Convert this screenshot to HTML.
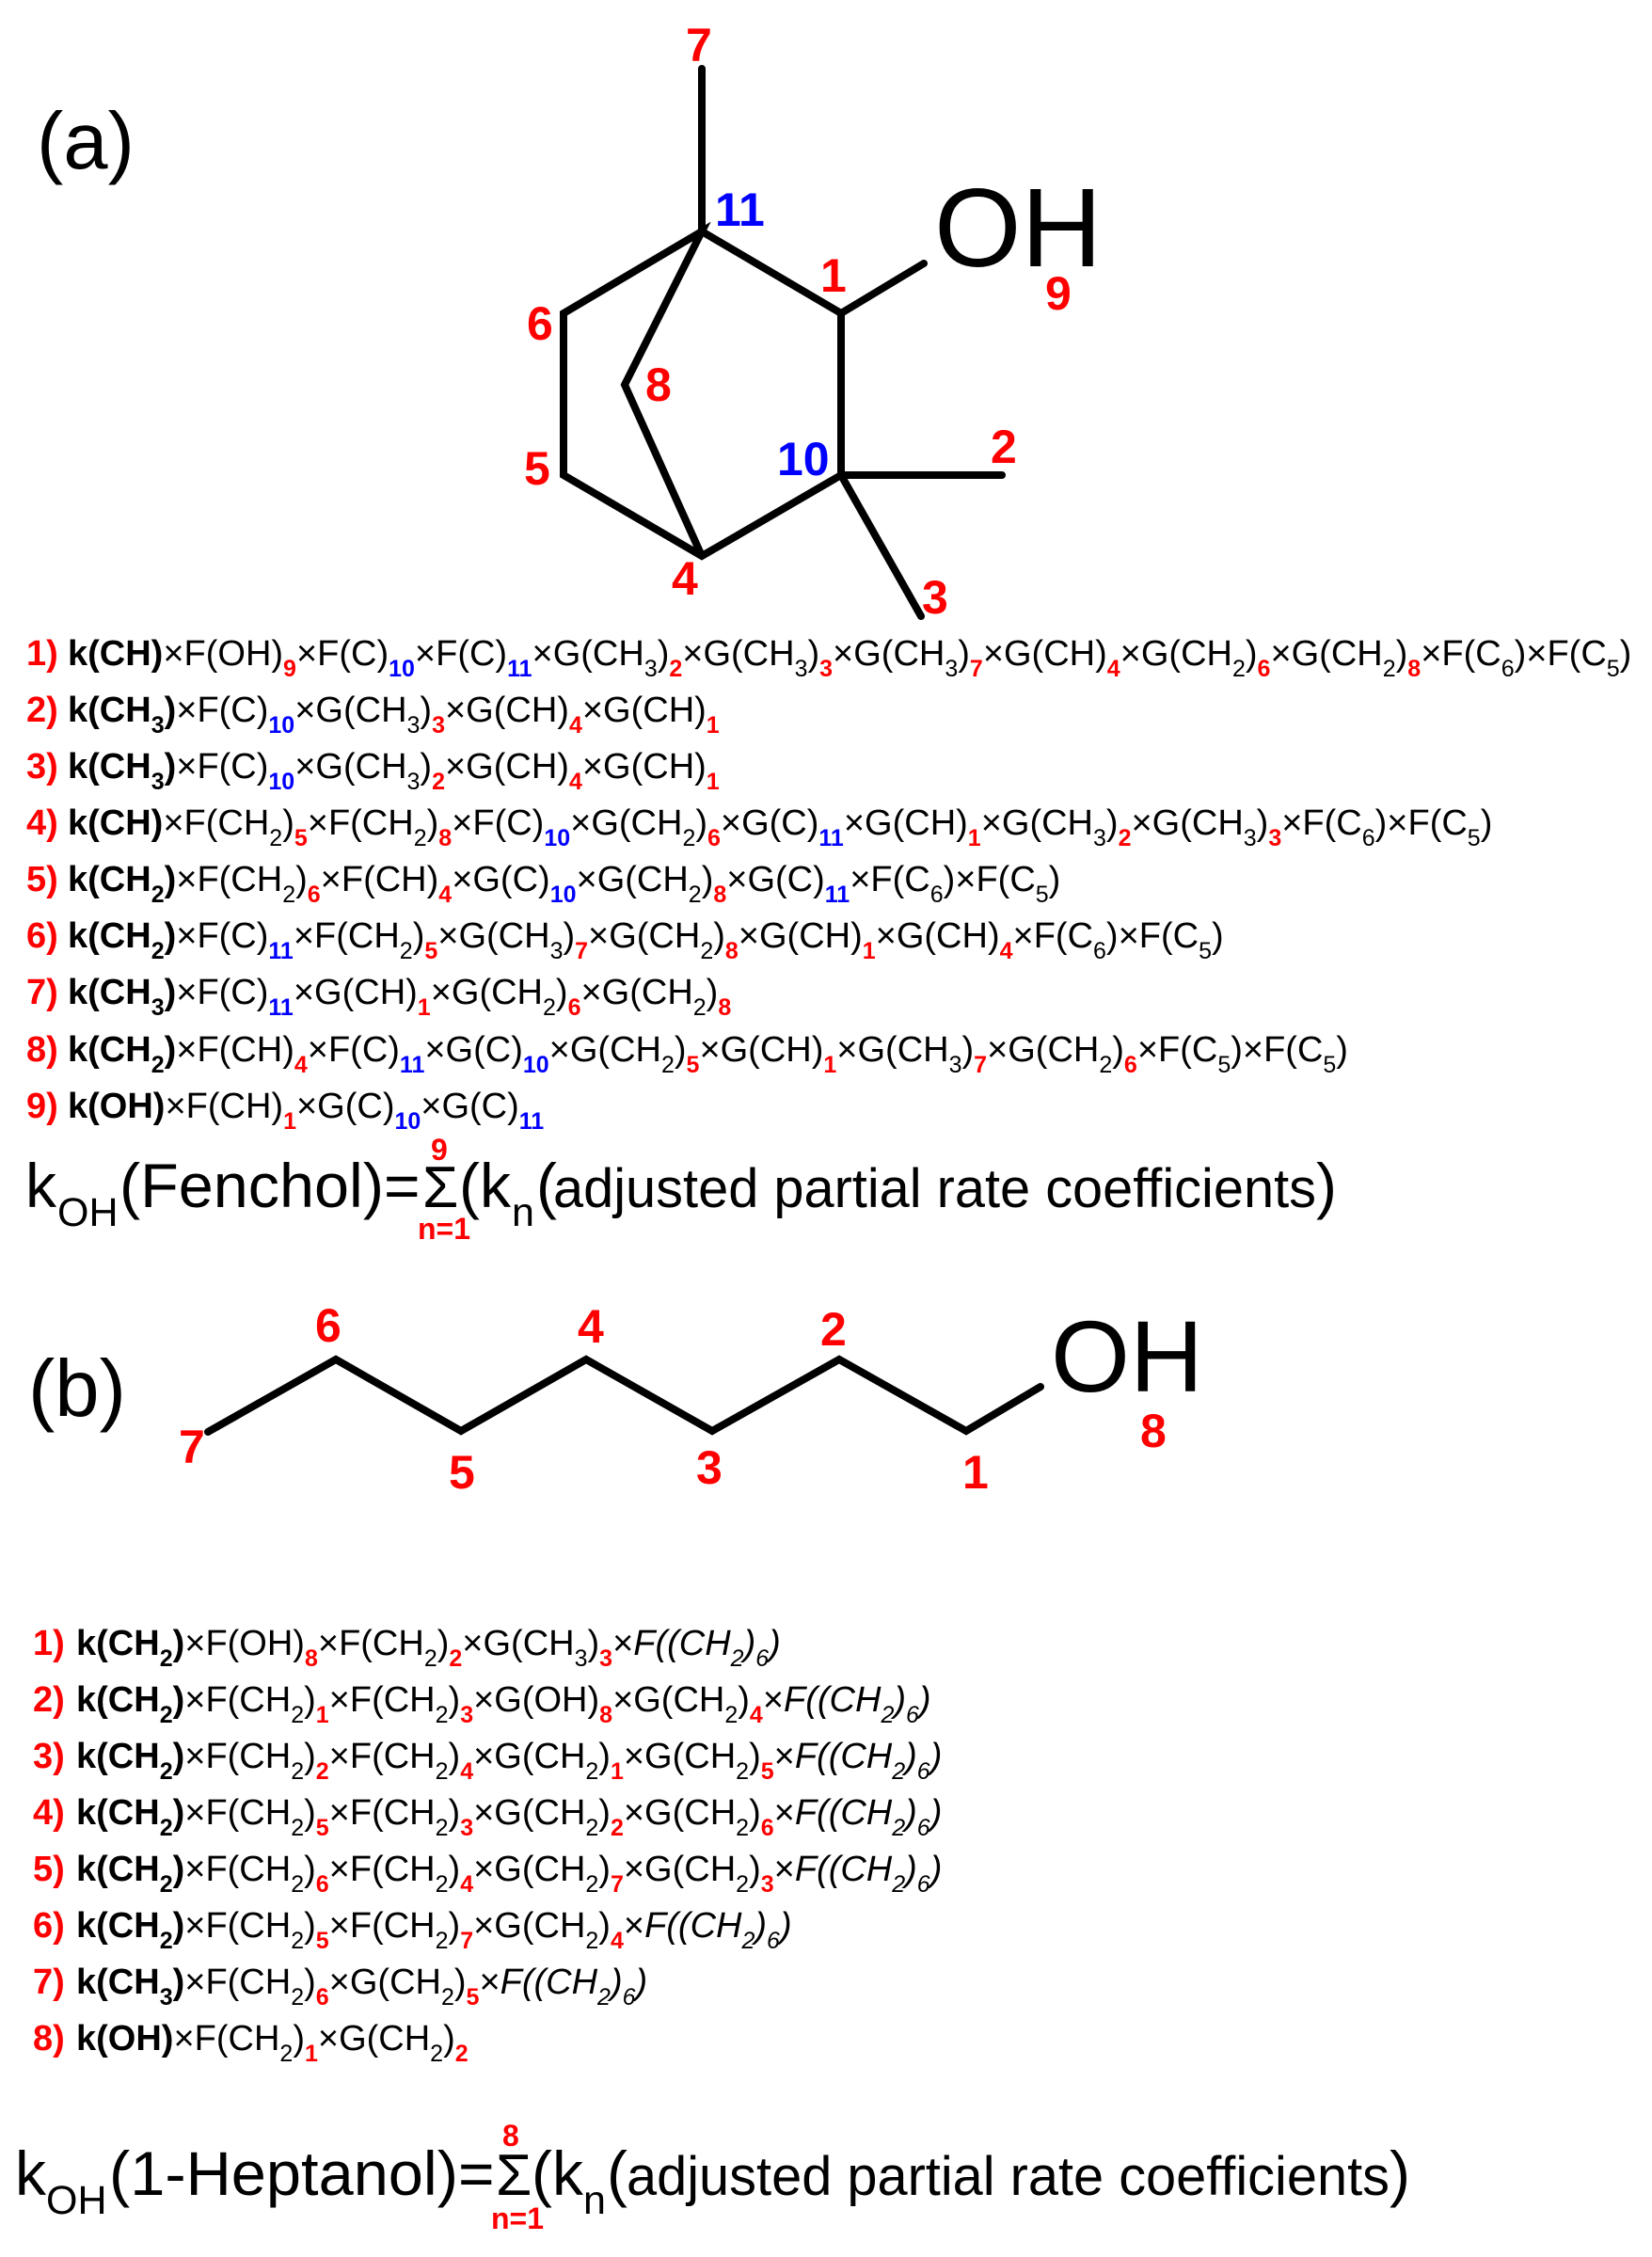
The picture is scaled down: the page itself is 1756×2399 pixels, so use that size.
<!DOCTYPE html>
<html><head><meta charset="utf-8">
<style>
html,body{margin:0;padding:0;background:#fff}
#p{position:relative;width:1756px;height:2399px;overflow:hidden;background:#fff;font-family:"Liberation Sans",Arial,sans-serif;color:#000}
svg{position:absolute;left:0;top:0}
.row{position:absolute;white-space:nowrap;font-size:38px;line-height:38px;height:38px}
.n{display:inline-block;color:#f00;font-weight:bold;width:44px}
.bn .n{width:46px}
sub{font-size:25px;position:relative;top:12px;vertical-align:baseline;line-height:0}
sub.r{color:#f00;font-weight:bold;font-style:normal}
sub.u{color:#00f;font-weight:bold;font-style:normal}
</style></head><body><div id="p">
<svg width="1756" height="2399" font-family="'Liberation Sans',Arial,sans-serif">
<g fill="none" stroke="#000" stroke-width="8" stroke-linecap="round" stroke-linejoin="miter">
<path d="M746 73V246L894 333V505L746 591L599 505V333L746 246L664 409L746 591"/>
<path d="M894 333L982 280M894 505H1065M894 505L979 655"/>
<path d="M221 1522L357 1445L490 1521L623 1445L757 1521L892 1445L1027 1521L1106 1474"/>
</g>
<text x="993" y="283" font-size="119">OH</text>
<text x="1117" y="1479" font-size="108">OH</text>
<text x="39" y="179" font-size="85">(a)</text>
<text x="30" y="1505" font-size="85">(b)</text>
<g fill="#f00" font-weight="bold" font-size="50">
<text x="729" y="65">7</text>
<text x="872" y="310">1</text>
<text x="1111" y="329">9</text>
<text x="560" y="361">6</text>
<text x="686" y="426">8</text>
<text x="557" y="515">5</text>
<text x="1053" y="492">2</text>
<text x="714" y="632">4</text>
<text x="980" y="652">3</text>
<text x="335" y="1426">6</text>
<text x="614" y="1427">4</text>
<text x="872" y="1430">2</text>
<text x="190" y="1555">7</text>
<text x="477" y="1582">5</text>
<text x="740" y="1577">3</text>
<text x="1023" y="1582">1</text>
<text x="1212" y="1538">8</text>
</g>
<g fill="#00f" font-weight="bold" font-size="50">
<text x="760" y="240">11</text>
<text x="826" y="505">10</text>
</g>
<g font-size="66">
<text x="27" y="1283">k</text>
<text x="61" y="1303" font-size="43">OH</text>
<text x="127" y="1283" textLength="281" lengthAdjust="spacingAndGlyphs">(Fenchol)</text>
<text x="408" y="1283">=</text>
<text x="449" y="1283" font-size="62">Σ</text>
<text x="488" y="1283">(k</text>
<text x="544" y="1303" font-size="43">n</text>
<text x="570" y="1283">(</text>
<text x="588" y="1283" font-size="58" textLength="811" lengthAdjust="spacingAndGlyphs">adjusted partial rate coefficients</text>
<text x="1399" y="1283">)</text>
<text x="16" y="2333">k</text>
<text x="49" y="2353" font-size="43">OH</text>
<text x="116" y="2333" textLength="371" lengthAdjust="spacingAndGlyphs">(1-Heptanol)</text>
<text x="487" y="2333">=</text>
<text x="527" y="2333" font-size="62">Σ</text>
<text x="565" y="2333">(k</text>
<text x="620" y="2353" font-size="43">n</text>
<text x="645" y="2333">(</text>
<text x="666" y="2333" font-size="58" textLength="811" lengthAdjust="spacingAndGlyphs">adjusted partial rate coefficients</text>
<text x="1477" y="2333">)</text>
</g>
<g fill="#f00" font-weight="bold" font-size="32">
<text x="458" y="1233">9</text>
<text x="444" y="1317">n=1</text>
<text x="534" y="2281">8</text>
<text x="522" y="2369">n=1</text>
</g>
</svg>

<div class="row" style="left:28px;top:676px"><span class="n">1)</span><b>k(CH)</b>×F(OH)<sub class="r">9</sub>×F(C)<sub class="u">10</sub>×F(C)<sub class="u">11</sub>×G(CH<sub>3</sub>)<sub class="r">2</sub>×G(CH<sub>3</sub>)<sub class="r">3</sub>×G(CH<sub>3</sub>)<sub class="r">7</sub>×G(CH)<sub class="r">4</sub>×G(CH<sub>2</sub>)<sub class="r">6</sub>×G(CH<sub>2</sub>)<sub class="r">8</sub>×F(C<sub>6</sub>)×F(C<sub>5</sub>)</div>
<div class="row" style="left:28px;top:736px"><span class="n">2)</span><b>k(CH<sub>3</sub>)</b>×F(C)<sub class="u">10</sub>×G(CH<sub>3</sub>)<sub class="r">3</sub>×G(CH)<sub class="r">4</sub>×G(CH)<sub class="r">1</sub></div>
<div class="row" style="left:28px;top:796px"><span class="n">3)</span><b>k(CH<sub>3</sub>)</b>×F(C)<sub class="u">10</sub>×G(CH<sub>3</sub>)<sub class="r">2</sub>×G(CH)<sub class="r">4</sub>×G(CH)<sub class="r">1</sub></div>
<div class="row" style="left:28px;top:856px"><span class="n">4)</span><b>k(CH)</b>×F(CH<sub>2</sub>)<sub class="r">5</sub>×F(CH<sub>2</sub>)<sub class="r">8</sub>×F(C)<sub class="u">10</sub>×G(CH<sub>2</sub>)<sub class="r">6</sub>×G(C)<sub class="u">11</sub>×G(CH)<sub class="r">1</sub>×G(CH<sub>3</sub>)<sub class="r">2</sub>×G(CH<sub>3</sub>)<sub class="r">3</sub>×F(C<sub>6</sub>)×F(C<sub>5</sub>)</div>
<div class="row" style="left:28px;top:916px"><span class="n">5)</span><b>k(CH<sub>2</sub>)</b>×F(CH<sub>2</sub>)<sub class="r">6</sub>×F(CH)<sub class="r">4</sub>×G(C)<sub class="u">10</sub>×G(CH<sub>2</sub>)<sub class="r">8</sub>×G(C)<sub class="u">11</sub>×F(C<sub>6</sub>)×F(C<sub>5</sub>)</div>
<div class="row" style="left:28px;top:976px"><span class="n">6)</span><b>k(CH<sub>2</sub>)</b>×F(C)<sub class="u">11</sub>×F(CH<sub>2</sub>)<sub class="r">5</sub>×G(CH<sub>3</sub>)<sub class="r">7</sub>×G(CH<sub>2</sub>)<sub class="r">8</sub>×G(CH)<sub class="r">1</sub>×G(CH)<sub class="r">4</sub>×F(C<sub>6</sub>)×F(C<sub>5</sub>)</div>
<div class="row" style="left:28px;top:1036px"><span class="n">7)</span><b>k(CH<sub>3</sub>)</b>×F(C)<sub class="u">11</sub>×G(CH)<sub class="r">1</sub>×G(CH<sub>2</sub>)<sub class="r">6</sub>×G(CH<sub>2</sub>)<sub class="r">8</sub></div>
<div class="row" style="left:28px;top:1097px"><span class="n">8)</span><b>k(CH<sub>2</sub>)</b>×F(CH)<sub class="r">4</sub>×F(C)<sub class="u">11</sub>×G(C)<sub class="u">10</sub>×G(CH<sub>2</sub>)<sub class="r">5</sub>×G(CH)<sub class="r">1</sub>×G(CH<sub>3</sub>)<sub class="r">7</sub>×G(CH<sub>2</sub>)<sub class="r">6</sub>×F(C<sub>5</sub>)×F(C<sub>5</sub>)</div>
<div class="row" style="left:28px;top:1157px"><span class="n">9)</span><b>k(OH)</b>×F(CH)<sub class="r">1</sub>×G(C)<sub class="u">10</sub>×G(C)<sub class="u">11</sub></div>

<div class="row bn" style="left:35px;top:1728px"><span class="n">1)</span><b>k(CH<sub>2</sub>)</b>×F(OH)<sub class="r">8</sub>×F(CH<sub>2</sub>)<sub class="r">2</sub>×G(CH<sub>3</sub>)<sub class="r">3</sub>×<i>F((CH<sub>2</sub>)<sub>6</sub>)</i></div>
<div class="row bn" style="left:35px;top:1788px"><span class="n">2)</span><b>k(CH<sub>2</sub>)</b>×F(CH<sub>2</sub>)<sub class="r">1</sub>×F(CH<sub>2</sub>)<sub class="r">3</sub>×G(OH)<sub class="r">8</sub>×G(CH<sub>2</sub>)<sub class="r">4</sub>×<i>F((CH<sub>2</sub>)<sub>6</sub>)</i></div>
<div class="row bn" style="left:35px;top:1848px"><span class="n">3)</span><b>k(CH<sub>2</sub>)</b>×F(CH<sub>2</sub>)<sub class="r">2</sub>×F(CH<sub>2</sub>)<sub class="r">4</sub>×G(CH<sub>2</sub>)<sub class="r">1</sub>×G(CH<sub>2</sub>)<sub class="r">5</sub>×<i>F((CH<sub>2</sub>)<sub>6</sub>)</i></div>
<div class="row bn" style="left:35px;top:1908px"><span class="n">4)</span><b>k(CH<sub>2</sub>)</b>×F(CH<sub>2</sub>)<sub class="r">5</sub>×F(CH<sub>2</sub>)<sub class="r">3</sub>×G(CH<sub>2</sub>)<sub class="r">2</sub>×G(CH<sub>2</sub>)<sub class="r">6</sub>×<i>F((CH<sub>2</sub>)<sub>6</sub>)</i></div>
<div class="row bn" style="left:35px;top:1968px"><span class="n">5)</span><b>k(CH<sub>2</sub>)</b>×F(CH<sub>2</sub>)<sub class="r">6</sub>×F(CH<sub>2</sub>)<sub class="r">4</sub>×G(CH<sub>2</sub>)<sub class="r">7</sub>×G(CH<sub>2</sub>)<sub class="r">3</sub>×<i>F((CH<sub>2</sub>)<sub>6</sub>)</i></div>
<div class="row bn" style="left:35px;top:2028px"><span class="n">6)</span><b>k(CH<sub>2</sub>)</b>×F(CH<sub>2</sub>)<sub class="r">5</sub>×F(CH<sub>2</sub>)<sub class="r">7</sub>×G(CH<sub>2</sub>)<sub class="r">4</sub>×<i>F((CH<sub>2</sub>)<sub>6</sub>)</i></div>
<div class="row bn" style="left:35px;top:2088px"><span class="n">7)</span><b>k(CH<sub>3</sub>)</b>×F(CH<sub>2</sub>)<sub class="r">6</sub>×G(CH<sub>2</sub>)<sub class="r">5</sub>×<i>F((CH<sub>2</sub>)<sub>6</sub>)</i></div>
<div class="row bn" style="left:35px;top:2148px"><span class="n">8)</span><b>k(OH)</b>×F(CH<sub>2</sub>)<sub class="r">1</sub>×G(CH<sub>2</sub>)<sub class="r">2</sub></div>
</div></body></html>
